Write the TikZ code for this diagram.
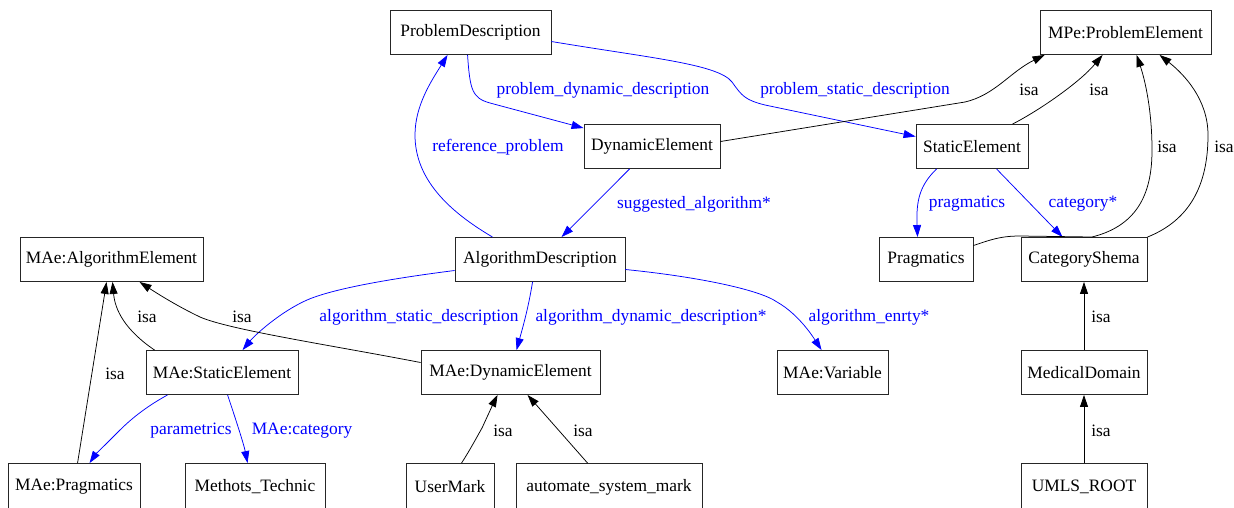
\documentclass[tikz,border=0pt]{standalone}
\usepackage{fontspec}
\setmainfont{Liberation Serif}
\usetikzlibrary{arrows.meta,calc}
\definecolor{edgeblue}{RGB}{0,0,255}
\begin{document}
\begin{tikzpicture}[x=1pt,y=-1pt,
  box/.style={draw=black!85,line width=0.9pt,inner sep=0pt,minimum height=44pt,font=\fontsize{17.4}{20}\selectfont},
  lowbox/.style={box,minimum height=47pt},
  lbl/.style={inner sep=0pt,font=\fontsize{17.4}{20}\selectfont},
  bl/.style={lbl,text=edgeblue},
  rel/.style={draw=edgeblue,line width=0.75pt,-{Triangle[length=12pt,width=8pt]},edgeblue},
  isa/.style={draw=black,line width=0.75pt,-{Triangle[length=12pt,width=8pt]}}]
\useasboundingbox (0,0) rectangle (1234,507);
\fill[white] (0,0) rectangle (1234,507);
% nodes
\node[box,minimum width=161pt] (PD) at (470.5,32.5) {ProblemDescription};
\node[box,minimum width=171pt] (MPE) at (1125.5,32.5) {MPe:ProblemElement};
\node[box,minimum width=136pt] (DE) at (652,146.5) {DynamicElement};
\node[box,minimum width=112pt] (SE) at (972,146.5) {StaticElement};
\node[box,minimum width=183pt] (MAE) at (111.5,259.5) {MAe:AlgorithmElement};
\node[box,minimum width=170pt] (AD) at (540,259.5) {AlgorithmDescription};
\node[box,minimum width=94pt] (PR) at (926,259.5) {Pragmatics};
\node[box,minimum width=126pt] (CS) at (1084,259.5) {CategoryShema};
\node[box,minimum width=152pt] (MSE) at (222,372.5) {MAe:StaticElement};
\node[box,minimum width=179pt] (MDE) at (510.5,372.5) {MAe:DynamicElement};
\node[box,minimum width=111pt] (MV) at (832.5,372.5) {MAe:Variable};
\node[box,minimum width=126pt] (MD) at (1084,372.5) {MedicalDomain};
\node[lowbox,minimum width=132pt] (MP) at (74,487) {MAe:Pragmatics};
\node[lowbox,minimum width=140pt] (MT) at (255,487) {Methots\_Technic};
\node[lowbox,minimum width=88pt] (UM) at (450,487) {UserMark};
\node[lowbox,minimum width=186pt] (ASM) at (609,487) {automate\_system\_mark};
\node[lowbox,minimum width=126pt] (UR) at (1084,487) {UMLS\_ROOT};
% blue relations
\draw[rel] ($(PD.south west)+(78,0)$) .. controls (470,90) and (472,98) .. (490,103) -- ($(DE.north west)+(0,4)$);
\draw[rel] ($(PD.east)+(0,9)$) .. controls (650,58) and (718,64) .. (732,82) .. controls (742,96) and (745,100) .. (765,105) -- ($(SE.west)+(0,-10)$);
\draw[rel] ($(AD.north west)+(38,0)$) .. controls (450,212) and (415,180) .. (415,135) .. controls (415,105) and (432,80) .. ($(PD.south west)+(58,0)$);
\draw[rel] ($(DE.south west)+(46,0)$) -- ($(AD.north west)+(107,0)$);
\draw[rel] ($(SE.south west)+(21,0)$) .. controls (920,185) and (916,200) .. ($(PR.north west)+(39,0)$);
\draw[rel] ($(SE.south west)+(81,0)$) -- ($(CS.north west)+(42,0)$);
\draw[rel] ($(AD.west)+(0,11)$) .. controls (380,280) and (330,290) .. (307,300) .. controls (280,312) and (255,335) .. ($(MSE.north west)+(97,0)$);
\draw[rel] ($(AD.south west)+(78,0)$) .. controls (528,310) and (522,330) .. ($(MDE.north west)+(96,0)$);
\draw[rel] ($(AD.east)+(0,10)$) .. controls (700,277) and (760,290) .. (777,302) .. controls (800,315) and (815,340) .. ($(MV.north west)+(45,0)$);
\draw[rel] ($(MSE.south west)+(22,0)$) .. controls (140,410) and (125,425) .. (118,432) .. controls (105,445) and (95,455) .. ($(MP.north west)+(82,0)$);
\draw[rel] ($(MSE.south west)+(82,0)$) .. controls (236,420) and (244,445) .. ($(MT.north west)+(63,0)$);
% isa relations
\draw[isa] ($(DE.east)+(0,-5)$) -- (965,102) .. controls (995,95) and (1010,72) .. ($(MPE.south west)+(5,0)$);
\draw[isa] ($(SE.north west)+(97,0)$) .. controls (1040,110) and (1080,82) .. ($(MPE.south west)+(63,0)$);
\draw[isa] ($(PR.east)+(0,-14)$) .. controls (990,240) and (1000,236) .. (1020,236) -- (1092,237) .. controls (1140,225) and (1152,190) .. (1152,150) .. controls (1152,110) and (1145,80) .. ($(MPE.south west)+(97,0)$);
\draw[isa] (CS.north east) .. controls (1190,220) and (1208,185) .. (1208,135) .. controls (1208,100) and (1185,75) .. ($(MPE.south west)+(120,0)$);
\draw[isa] ($(MSE.north west)+(9,0)$) .. controls (125,330) and (115,310) .. ($(MAE.south west)+(93,0)$);
\draw[isa] ($(MDE.west)+(0,-10)$) .. controls (330,345) and (230,330) .. (200,317) .. controls (175,305) and (155,292) .. ($(MAE.south west)+(120,0)$);
\draw[isa] ($(MP.north west)+(70,0)$) -- ($(MAE.south west)+(87,0)$);
\draw[isa] ($(UM.north west)+(56,0)$) .. controls (470,450) and (478,435) .. (482,428) .. controls (488,415) and (494,402) .. ($(MDE.south west)+(77,0)$);
\draw[isa] ($(ASM.north west)+(72,0)$) -- ($(MDE.south west)+(107,0)$);
\draw[isa] (MD.north) -- (CS.south);
\draw[isa] (UR.north) -- (MD.south);
% labels
\node[bl] (l1) at (603,90) {problem\_dynamic\_description};
\node[bl] (l2) at (855,90) {problem\_static\_description};
\node[bl] (l3) at (498,147) {reference\_problem};
\node[bl] (l4) at (694,204) {suggested\_algorithm*};
\node[bl] (l5) at (967,204) {pragmatics};
\node[bl] (l6) at (1083,204) {category*};
\node[bl] (l7) at (419,317) {algorithm\_static\_description};
\node[bl] (l8) at (651,317) {algorithm\_dynamic\_description*};
\node[bl] (l9) at (869,317) {algorithm\_enrty*};
\node[bl] (l10) at (191,431) {parametrics};
\node[bl] (l11) at (302,431) {MAe:category};
\node[lbl] (i1) at (1029,90) {isa};
\node[lbl] (i2) at (1099,90) {isa};
\node[lbl] (i3) at (1167,147) {isa};
\node[lbl] (i4) at (1224,147) {isa};
\node[lbl] (i5) at (147,317) {isa};
\node[lbl] (i6) at (242,317) {isa};
\node[lbl] (i7) at (115,374) {isa};
\node[lbl] (i8) at (503,431) {isa};
\node[lbl] (i9) at (583,431) {isa};
\node[lbl] (i10) at (1101,317) {isa};
\node[lbl] (i11) at (1101,431) {isa};
\end{tikzpicture}
\end{document}
